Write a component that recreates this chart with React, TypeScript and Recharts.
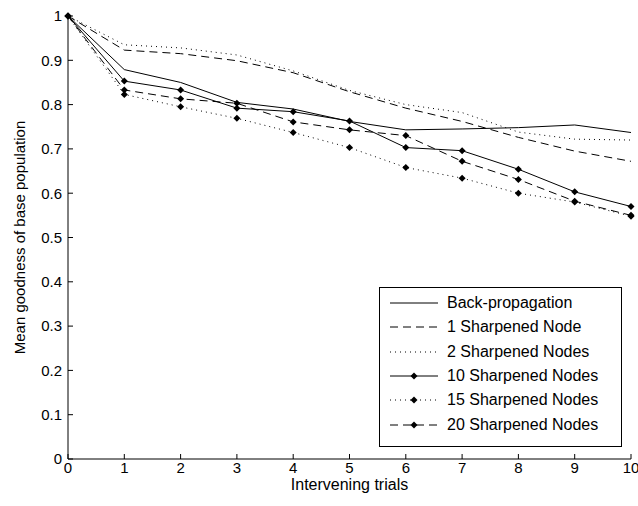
import { Legend, Line, LineChart, XAxis, YAxis } from 'recharts'

const trials = [0, 1, 2, 3, 4, 5, 6, 7, 8, 9, 10]

const backProp = [1, 0.879, 0.85, 0.805, 0.79, 0.762, 0.743, 0.745, 0.748, 0.754, 0.737]
const sharpened1 = [1, 0.923, 0.915, 0.899, 0.872, 0.829, 0.792, 0.762, 0.726, 0.695, 0.672]
const sharpened2 = [1, 0.935, 0.928, 0.912, 0.876, 0.832, 0.8, 0.782, 0.738, 0.722, 0.72]
const sharpened10 = [1, 0.853, 0.833, 0.792, 0.784, 0.763, 0.703, 0.696, 0.654, 0.603, 0.57]
const sharpened15 = [1, 0.823, 0.795, 0.769, 0.737, 0.703, 0.658, 0.634, 0.6, 0.58, 0.548]
const sharpened20 = [1, 0.833, 0.813, 0.803, 0.761, 0.743, 0.73, 0.672, 0.631, 0.582, 0.55]

const xTicks = [0, 1, 2, 3, 4, 5, 6, 7, 8, 9, 10]
const yTicks = [0, 0.1, 0.2, 0.3, 0.4, 0.5, 0.6, 0.7, 0.8, 0.9, 1]

const FONT = '"Liberation Sans", Arial, sans-serif'
const DASHED = '8 5'
const DOTTED = '1 4'

interface SeriesDef {
  key: string
  name: string
  values: number[]
  dash?: string
  marker: boolean
}

const series: SeriesDef[] = [
  { key: 'bp', name: 'Back-propagation', values: backProp, marker: false },
  { key: 's1', name: '1 Sharpened Node', values: sharpened1, dash: DASHED, marker: false },
  { key: 's2', name: '2 Sharpened Nodes', values: sharpened2, dash: DOTTED, marker: false },
  { key: 's10', name: '10 Sharpened Nodes', values: sharpened10, marker: true },
  { key: 's15', name: '15 Sharpened Nodes', values: sharpened15, dash: DOTTED, marker: true },
  { key: 's20', name: '20 Sharpened Nodes', values: sharpened20, dash: DASHED, marker: true },
]

const data = trials.map((t, i) => {
  const row: Record<string, number> = { t }
  series.forEach((s) => {
    row[s.key] = s.values[i]
  })
  return row
})

function Diamond({ cx, cy }: { cx?: number; cy?: number }) {
  if (cx == null || cy == null) return null
  const r = 3.5
  return (
    <polygon
      points={`${cx},${cy - r} ${cx + r},${cy} ${cx},${cy + r} ${cx - r},${cy}`}
      fill="#000"
      stroke="none"
    />
  )
}

function XLabel({ viewBox }: any) {
  if (!viewBox) return null
  return (
    <text x={viewBox.x + viewBox.width / 2} y={viewBox.y + 31} textAnchor="middle" fontSize={16} fontFamily={FONT} fill="#000">
      Intervening trials
    </text>
  )
}

function YLabel({ viewBox }: any) {
  if (!viewBox) return null
  const x = viewBox.x + 25
  const y = viewBox.y + viewBox.height / 2
  return (
    <text x={x} y={y} transform={`rotate(-90, ${x}, ${y})`} textAnchor="middle" fontSize={15} fontFamily={FONT} fill="#000">
      Mean goodness of base population
    </text>
  )
}

function LegendBox() {
  return (
    <div
      style={{
        border: '1px solid #000',
        background: '#fff',
        boxSizing: 'border-box',
        width: 243,
        height: 160,
        paddingTop: 3,
        fontFamily: FONT,
        fontSize: 16,
        color: '#000',
      }}
    >
      {series.map((s) => (
        <div key={s.key} style={{ display: 'flex', alignItems: 'center', height: 24.3 }}>
          <svg width={48} height={10} style={{ marginLeft: 10, marginRight: 9, display: 'block' }}>
            <line x1={0} y1={5} x2={48} y2={5} stroke="#000" strokeDasharray={s.dash} />
            {s.marker && <Diamond cx={24} cy={5} />}
          </svg>
          <span style={{ whiteSpace: 'nowrap' }}>{s.name}</span>
        </div>
      ))}
    </div>
  )
}

export default function App() {
  const tickStyle = { fill: '#000', fontSize: 15, fontFamily: FONT }
  return (
    <div style={{ position: 'absolute', left: 0, top: 0, width: 638, height: 506, background: '#fff' }}>
      <LineChart width={638} height={506} data={data} margin={{ top: 16, right: 7, bottom: 0, left: 0 }}>
        <XAxis
          dataKey="t"
          type="number"
          domain={[0, 10]}
          ticks={xTicks}
          interval={0}
          tickSize={-5}
          tickMargin={8}
          height={47}
          stroke="#000"
          tick={tickStyle}
          label={<XLabel />}
        />
        <XAxis
          xAxisId="top"
          orientation="top"
          type="number"
          domain={[0, 10]}
          ticks={xTicks}
          interval={0}
          tickSize={-5}
          tickFormatter={() => ''}
          height={0}
          stroke="#000"
          allowDataOverflow
        />
        <YAxis
          type="number"
          domain={[0, 1]}
          ticks={yTicks}
          interval={0}
          tickSize={-5}
          tickMargin={11}
          width={68}
          stroke="#000"
          tick={tickStyle}
          label={<YLabel />}
        />
        <YAxis
          yAxisId="right"
          orientation="right"
          type="number"
          domain={[0, 1]}
          ticks={yTicks}
          interval={0}
          tickSize={-5}
          tickFormatter={() => ''}
          width={0}
          stroke="#000"
          allowDataOverflow
        />
        {series.map((s) => (
          <Line
            key={s.key}
            dataKey={s.key}
            name={s.name}
            type="linear"
            stroke="#000"
            strokeWidth={1}
            strokeDasharray={s.dash}
            dot={s.marker ? (p: any) => <Diamond key={`${s.key}-${p.index}`} cx={p.cx} cy={p.cy} /> : false}
            activeDot={false}
            isAnimationActive={false}
          />
        ))}
        <Legend
          layout="horizontal"
          verticalAlign="middle"
          align="center"
          content={() => <LegendBox />}
          wrapperStyle={{ left: 379, top: 287, width: 243, height: 160 }}
        />
      </LineChart>
    </div>
  )
}
